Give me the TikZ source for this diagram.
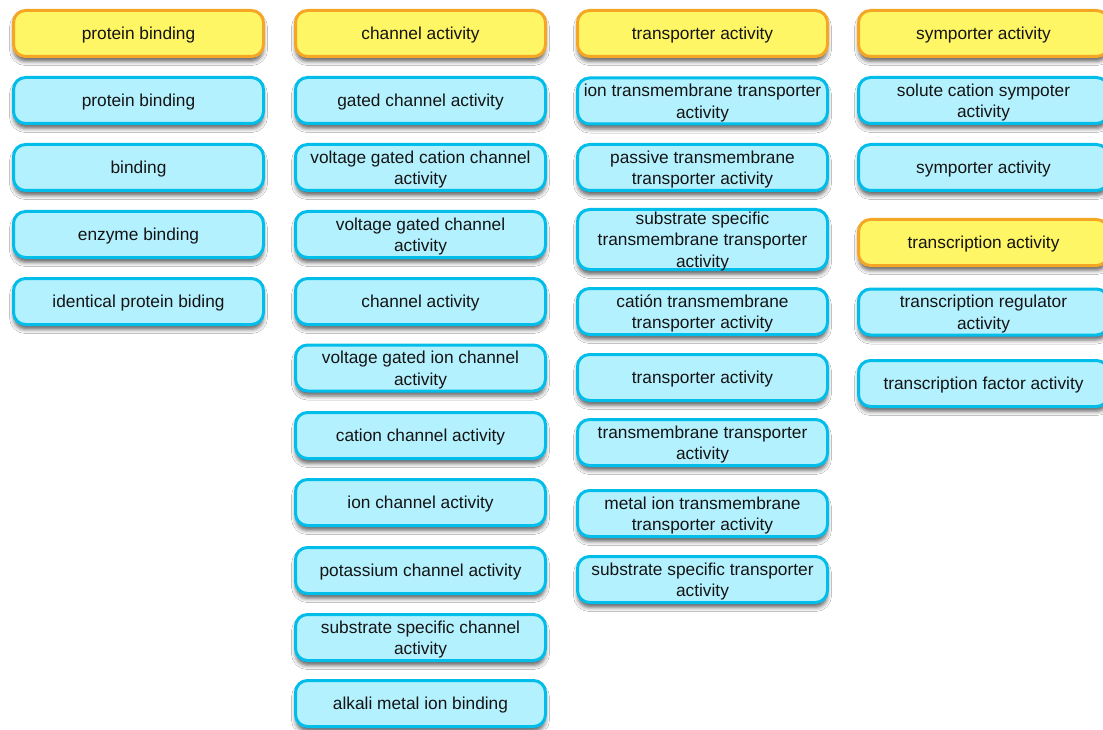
\documentclass[tikz,border=0pt]{standalone}
\usepackage{fontspec}
\setmainfont{Liberation Sans}
\usetikzlibrary{shadows.blur}
\definecolor{yfill}{RGB}{255,246,102}
\definecolor{ydraw}{RGB}{244,166,36}
\definecolor{bfill}{RGB}{180,241,254}
\definecolor{bdraw}{RGB}{0,189,234}
\definecolor{txt}{RGB}{20,20,20}
\tikzset{
  box/.style={rounded corners=12pt, line width=3pt, minimum width=250pt,
    minimum height=46pt, inner sep=0pt, align=center, text=txt,
    text depth=-2pt,
    font=\fontsize{17.3}{21.5}\selectfont,
    blur shadow={shadow xshift=0pt, shadow yshift=-5pt, shadow blur radius=4pt, shadow opacity=60}},
  head/.style={box, fill=yfill, draw=ydraw},
  item/.style={box, fill=bfill, draw=bdraw},
}
\begin{document}
\begin{tikzpicture}[x=1pt,y=-1pt]
\useasboundingbox (0,0) rectangle (1103,730);
\fill[white] (0,0) rectangle (1103,730);
% column 1
\node[head] (h1) at (138.5,33.5) {protein binding};
\node[item] (a1) at (138.5,100.5) {protein binding};
\node[item] (a2) at (138.5,167.5) {binding};
\node[item] (a3) at (138.5,234.5) {enzyme binding};
\node[item] (a4) at (138.5,301.5) {identical protein biding};
% column 2
\node[head] (h2) at (420.5,33.5) {channel activity};
\node[item] (b1) at (420.5,100.5) {gated channel activity};
\node[item] (b2) at (420.5,167.5) {voltage gated cation channel\\activity};
\node[item] (b3) at (420.5,234.5) {voltage gated channel\\activity};
\node[item] (b4) at (420.5,301.5) {channel activity};
\node[item] (b5) at (420.5,368) {voltage gated ion channel\\activity};
\node[item] (b6) at (420.5,435.5) {cation channel activity};
\node[item] (b7) at (420.5,502.5) {ion channel activity};
\node[item] (b8) at (420.5,570.5) {potassium channel activity};
\node[item] (b9) at (420.5,637.5) {substrate specific channel\\activity};
\node[item] (b10) at (420.5,703.5) {alkali metal ion binding};
% column 3
\node[head] (h3) at (702.5,33.5) {transporter activity};
\node[item] (c1) at (702.5,101) {ion transmembrane transporter\\activity};
\node[item] (c2) at (702.5,167.5) {passive transmembrane\\transporter activity};
\node[item, minimum height=60pt] (c3) at (702.5,239.5) {substrate specific\\transmembrane transporter\\activity};
\node[item] (c4) at (702.5,311.5) {cati\'on transmembrane\\transporter activity};
\node[item] (c5) at (702.5,377.5) {transporter activity};
\node[item] (c6) at (702.5,442.5) {transmembrane transporter\\activity};
\node[item] (c7) at (702.5,513.5) {metal ion transmembrane\\transporter activity};
\node[item] (c8) at (702.5,579.5) {substrate specific transporter\\activity};
% column 4
\node[head] (h4) at (983.5,33.5) {symporter activity};
\node[item] (d1) at (983.5,100.5) {solute cation sympoter\\activity};
\node[item] (d2) at (983.5,167.5) {symporter activity};
\node[head] (h5) at (983.5,242.5) {transcription activity};
\node[item] (d3) at (983.5,312) {transcription regulator\\activity};
\node[item] (d4) at (983.5,383.5) {transcription factor activity};
\end{tikzpicture}
\end{document}
